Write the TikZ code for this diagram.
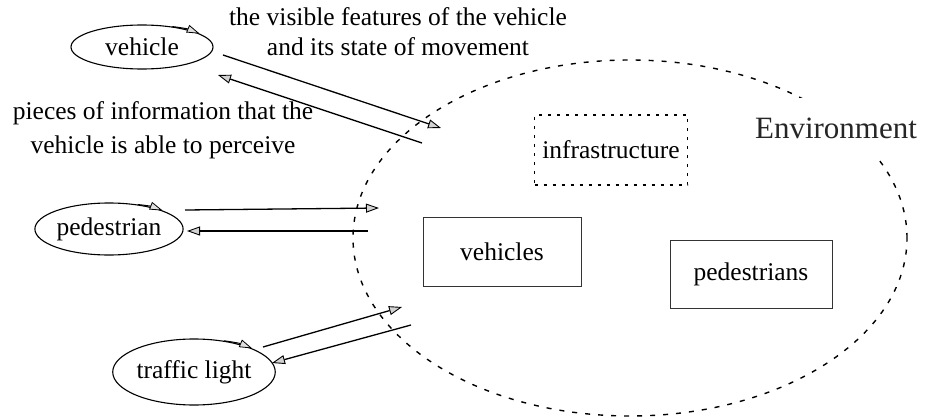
\documentclass[tikz,border=0pt]{standalone}
\usepackage{fontspec}
\setmainfont{Liberation Serif}
\usetikzlibrary{arrows.meta,shapes.geometric}

\tikzset{
  txt/.style={font=\fontsize{25.5}{30}\selectfont,inner sep=0pt,align=center},
  actor/.style={ellipse,draw,line width=1.1pt,inner sep=0pt,font=\fontsize{25.5}{30}\selectfont},
  part/.style={rectangle,draw=black!80,line width=0.9pt,inner sep=0pt,font=\fontsize{25.5}{30}\selectfont},
  partdot/.style={part,draw=black,dash pattern=on 3pt off 6pt,line width=1.2pt},
  envline/.style={ellipse,draw,dash pattern=on 5pt off 8pt,line width=1.4pt},
  envlabel/.style={fill=white,inner sep=0pt,minimum width=167pt,minimum height=60pt,text=black!85,font=\fontsize{31}{36}\selectfont},
  flow/.style={line width=1.3pt,-{Triangle[fill=gray!35,length=13pt,width=9pt,line width=0.9pt]}},
  looptip/.style={line width=1pt,-{Triangle[fill=gray!25,length=13pt,width=8pt,line width=0.8pt]}}
}

\begin{document}
\begin{tikzpicture}[x=1pt,y=-1pt]
\useasboundingbox (0,0) rectangle (925,417);
% environment and what is in it
\node[envline,minimum width=554pt,minimum height=356pt] (env) at (630,238) {};
\node[envlabel] (envtxt) at (836,128) {Environment};
\node[partdot,minimum width=153pt,minimum height=70pt] (infra) at (611,150) {infrastructure};
\node[part,minimum width=158pt,minimum height=69pt] (vehs) at (502,252) {vehicles};
\node[part,minimum width=162pt,minimum height=68pt] (peds) at (751,274) {pedestrians};
% actors
\node[actor,minimum width=142pt,minimum height=44pt] (veh) at (142,47) {vehicle};
\node[actor,minimum width=138pt,minimum height=52pt] (ped) at (109,229) {pedestrian};
\node[actor,minimum width=142pt,minimum height=66pt] (tl) at (194,372) {traffic light};
% texts
\node[txt] (seen) at (398,32) {the visible features of the vehicle\\and its state of movement};
\node[txt,font=\fontsize{25.5}{34}\selectfont] (perc) at (163,130) {pieces of information that the\\vehicle is able to perceive};
% arrow ends
\coordinate (vehOut) at (223,55);
\coordinate (vehIn) at (441,128);
\coordinate (vehBack) at (422,143);
\coordinate (vehTo) at (218,75);
\coordinate (pedOut) at (185,210);
\coordinate (pedIn) at (379,208);
\coordinate (pedBack) at (368,231);
\coordinate (pedTo) at (187,231);
\coordinate (tlOut) at (263,347);
\coordinate (tlIn) at (402,307);
\coordinate (tlBack) at (411,325);
\coordinate (tlTo) at (272,363);
% arrows
\draw[flow] (vehOut) -- (vehIn);
\draw[flow] (vehBack) -- (vehTo);
\draw[flow] (pedOut) -- (pedIn);
\draw[flow] (pedBack) -- (pedTo);
\draw[flow] (tlOut) -- (tlIn);
\draw[flow] (tlBack) -- (tlTo);
% small tips on the actors
\draw[looptip] (veh.34) to[bend left=8] (veh.13);
\draw[looptip] (ped.40) to[bend left=8] (ped.19);
\draw[looptip] (tl.46) to[bend left=8] (tl.22);
\end{tikzpicture}
\end{document}
